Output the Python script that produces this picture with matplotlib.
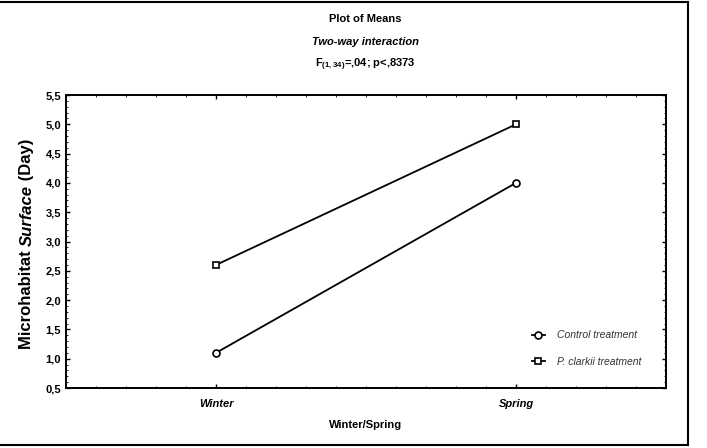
import matplotlib
matplotlib.use('Agg')
import matplotlib.pyplot as plt
from matplotlib.lines import Line2D
from matplotlib.ticker import FuncFormatter, MultipleLocator

plt.rcParams['font.family'] = 'Liberation Sans'
plt.rcParams['mathtext.fontset'] = 'custom'
plt.rcParams['mathtext.bf'] = 'Liberation Sans:bold'
plt.rcParams['mathtext.default'] = 'bf'

# data
seasons = ['Winter', 'Spring']
control = [1.1, 4.0]
clarkii = [2.6, 5.0]
labels = ['Control treatment', 'P. clarkii treatment']
yticks = [0.5, 1.0, 1.5, 2.0, 2.5, 3.0, 3.5, 4.0, 4.5, 5.0, 5.5]

fig = plt.figure(figsize=(7.07, 4.48), dpi=100)
ax = fig.add_axes([66/707, 60/448, 600/707, 293/448])

x = list(range(len(seasons)))
ax.plot(x, control, color='black', lw=1.3, marker='o', ms=5, mfc='white',
        mec='black', mew=1.2, label=labels[0])
ax.plot(x, clarkii, color='black', lw=1.3, marker='s', ms=5, mfc='white',
        mec='black', mew=1.2, label=labels[1])

ax.set_xlim(-0.5, 1.5)
ax.set_ylim(0.5, 5.5)
ax.set_xticks(x)
ax.set_xticklabels(seasons, fontsize=8, fontweight='bold', style='italic')
ax.set_yticks(yticks)
ax.yaxis.set_major_formatter(FuncFormatter(lambda v, p: ('%.1f' % v).replace('.', ',')))
for t in ax.get_yticklabels():
    t.set_fontsize(8)
    t.set_fontweight('bold')
ax.yaxis.set_minor_locator(MultipleLocator(0.1))
ax.xaxis.set_minor_locator(MultipleLocator(0.1))
ax.tick_params(which='both', direction='in', top=True, right=True)
ax.tick_params(which='major', length=3, width=1)
ax.tick_params(which='minor', length=1.5, width=0.6)
ax.tick_params(axis='x', pad=8)
for s in ax.spines.values():
    s.set_linewidth(1.4)

ax.set_xlabel('Winter/Spring', fontsize=8, fontweight='bold', labelpad=8)

leg = ax.legend(loc='lower right', frameon=False, prop={'size': 7.5, 'style': 'italic'},
                handlelength=1.2, handletextpad=1.2, labelspacing=1.6,
                bbox_to_anchor=(0.975, 0.04))
for t in leg.get_texts():
    t.set_color('#333333')

# titles
fig.text(0.517, 0.950, 'Plot of Means', ha='center', fontsize=8, fontweight='bold')
fig.text(0.517, 0.900, 'Two-way interaction', ha='center', fontsize=8,
         fontweight='bold', style='italic')
fig.text(0.517, 0.850, r'F$_{(1,34)}$=,04; p<,8373', ha='center', fontsize=8,
         fontweight='bold')

# y label in three pieces (middle word italic)
fig.canvas.draw()
r = fig.canvas.get_renderer()
parts = [('Microhabitat ', 'normal'), ('Surface', 'italic'), (' (Day)', 'normal')]
texts = [fig.text(0, 0, p, rotation=90, fontsize=12, fontweight='bold', style=st,
                  va='bottom', ha='center') for p, st in parts]
heights = [t.get_window_extent(r).height for t in texts]
y0 = (448 - 244) - sum(heights) / 2
for t, h in zip(texts, heights):
    t.set_position((27/707, y0 / 448))
    y0 += h

# outer frame
fig.add_artist(Line2D([0, 688/707], [446/448, 446/448], color='black', lw=1.5))
fig.add_artist(Line2D([0, 688/707], [3/448, 3/448], color='black', lw=1.5))
fig.add_artist(Line2D([688/707, 688/707], [3/448, 446/448], color='black', lw=1.5))

fig.savefig('out.png', dpi=100)
